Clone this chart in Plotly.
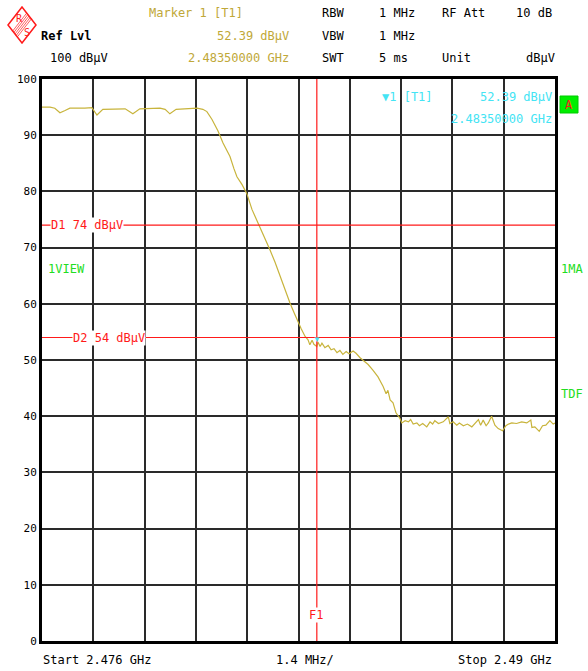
import plotly.graph_objects as go

# ---- sweep settings -------------------------------------------------------
START_GHZ = 2.476
STOP_GHZ = 2.490
SPAN_PER_DIV_GHZ = 0.0014
REF_LEVEL = 100
DISPLAY_LINES = [("D1", 74), ("D2", 54)]
F1_GHZ = 2.4835
MARKER_GHZ = 2.4835
MARKER_LEVEL = 52.39
y_ticks = [0, 10, 20, 30, 40, 50, 60, 70, 80, 90, 100]

# ---- measured trace (GHz, dBµV) ------------------------------------------
freq_ghz = [
    2.47600, 2.47622, 2.47635, 2.47649, 2.47663, 2.47676, 2.47717, 2.47736,
    2.47750, 2.47766, 2.47827, 2.47848, 2.47867, 2.47922, 2.47936, 2.47949,
    2.47966, 2.48004, 2.48023, 2.48039, 2.48050, 2.48064, 2.48080, 2.48094,
    2.48113, 2.48124, 2.48132, 2.48146, 2.48159, 2.48173, 2.48184, 2.48195,
    2.48209, 2.48222, 2.48236, 2.48250, 2.48263, 2.48277, 2.48288, 2.48296,
    2.48307, 2.48318, 2.48326, 2.48331, 2.48337, 2.48342, 2.48350, 2.48353,
    2.48359, 2.48364, 2.48372, 2.48381, 2.48389, 2.48397, 2.48405, 2.48413,
    2.48421, 2.48430, 2.48438, 2.48449, 2.48457, 2.48468, 2.48479, 2.48490,
    2.48503, 2.48517, 2.48531, 2.48539, 2.48544, 2.48550, 2.48558, 2.48566,
    2.48577, 2.48582, 2.48591, 2.48600, 2.48606, 2.48613, 2.48623, 2.48630,
    2.48639, 2.48650, 2.48659, 2.48666, 2.48672, 2.48682, 2.48695, 2.48709,
    2.48713, 2.48722, 2.48732, 2.48739, 2.48750, 2.48761, 2.48773, 2.48782,
    2.48791, 2.48797, 2.48804, 2.48812, 2.48818, 2.48827, 2.48836, 2.48845,
    2.48857, 2.48866, 2.48873, 2.48882, 2.48895, 2.48909, 2.48923, 2.48934,
    2.48937, 2.48945, 2.48957, 2.48966, 2.48975, 2.48986, 2.48995, 2.49000,
]
level_dbuv = [
    95.0, 95.0, 94.8, 94.0, 94.4, 94.8, 94.8, 94.9,
    93.6, 94.6, 94.7, 93.8, 94.7, 94.8, 94.6, 93.8,
    94.6, 94.8, 94.8, 94.6, 94.2, 92.8, 90.8, 88.6,
    86.2, 84.0, 82.6, 81.2, 79.6, 76.8, 75.2, 73.7,
    71.8, 69.6, 67.4, 64.8, 62.6, 60.1, 58.4, 57.1,
    55.6, 54.2, 53.6, 52.7, 53.5, 52.8, 52.39, 53.2,
    52.4, 53.0, 52.2, 52.6, 51.8, 52.0, 51.3, 51.7,
    51.0, 51.5, 51.1, 51.6, 51.2, 50.4, 49.8, 49.2,
    48.2, 47.0, 45.3, 44.0, 44.6, 42.9, 42.4, 40.6,
    39.6, 38.8, 39.2, 39.0, 39.4, 38.6, 38.8, 38.3,
    38.7, 38.1, 39.0, 38.6, 39.2, 38.7, 39.0, 39.9,
    38.7, 39.0, 38.4, 38.8, 38.3, 38.6, 38.1, 38.7,
    39.4, 38.4, 39.3, 38.3, 38.8, 40.0, 38.4, 37.8,
    37.4, 38.3, 38.6, 38.8, 38.7, 39.0, 38.8, 39.3,
    38.0, 38.1, 37.3, 38.3, 38.4, 39.2, 38.6, 38.8,
]

# ---- page geometry --------------------------------------------------------
W, H = 588, 671
ML, MR, MT, MB = 42, 33, 79, 30
PW, PH = W - ML - MR, H - MT - MB


def px(x):
    return (x - ML) / PW


def py(y):
    return (H - MB - y) / PH


FONT = "DejaVu Sans Mono"
TRACE = "#c8b43c"
HDR_Y = "#c0a838"
CYAN = "#44e4f4"
GREEN = "#22dd22"
RED = "#ff1a1a"

fig = go.Figure()

fig.add_trace(go.Scatter(
    x=freq_ghz, y=level_dbuv, mode="lines",
    line=dict(color=TRACE, width=1.2), hoverinfo="skip", showlegend=False,
))

shapes = []
annotations = []


def text(x, y, s, color="black", size=12, xanchor="left", bg=None, yanchor="middle"):
    a = dict(x=px(x), y=py(y), xref="paper", yref="paper", text=s, showarrow=False,
             xanchor=xanchor, yanchor=yanchor,
             font=dict(family=FONT, size=size, color=color), borderpad=0)
    if bg:
        a["bgcolor"] = bg
    annotations.append(a)


# display lines
for name, lvl in DISPLAY_LINES:
    shapes.append(dict(type="line", xref="paper", yref="y", x0=0, x1=1, y0=lvl, y1=lvl,
                       line=dict(color=RED, width=1.2), layer="above"))
text(50, 225, "D1 74 dBµV", RED, bg="white")
text(72, 337.5, "D2 54 dBµV", RED, bg="white")

# frequency line F1
shapes.append(dict(type="line", xref="x", yref="paper", x0=F1_GHZ, x1=F1_GHZ, y0=0, y1=1,
                   line=dict(color=RED, width=1.2), layer="above"))
text(316, 615, "F1", RED, xanchor="center", bg="white")

# marker symbol on the trace
annotations.append(dict(x=MARKER_GHZ, y=MARKER_LEVEL, xref="x", yref="y", text="▼",
                        showarrow=False, yanchor="bottom", xanchor="center", yshift=1,
                        font=dict(size=8, color=CYAN)))

# marker readout inside the grid
text(381, 97, "▼1 [T1]", CYAN)
text(553, 97, "52.39 dBµV", CYAN, xanchor="right")
text(553, 119, "2.48350000 GHz", CYAN, xanchor="right")

# side indicators
shapes.append(dict(type="rect", xref="paper", yref="paper", x0=px(560), x1=px(578),
                   y0=py(113), y1=py(96), fillcolor="#00ee00", line=dict(color="#00cc00", width=1)))
text(569, 104.5, "A", RED, xanchor="center")
text(47, 269, "1VIEW", GREEN)
text(560, 269, "1MA", GREEN)
text(560, 394, "TDF", GREEN)

# header block
text(148, 13, "Marker 1 [T1]", HDR_Y)
text(290, 36, "52.39 dBµV", HDR_Y, xanchor="right")
text(290, 58, "2.48350000 GHz", HDR_Y, xanchor="right")
text(40, 36, "<b>Ref Lvl</b>")
text(49, 58, "100 dBµV")
for row_y, cells in [(13, [(321, "RBW"), (378, "1 MHz"), (441, "RF Att"), (515, "10 dB")]),
                     (36, [(321, "VBW"), (378, "1 MHz")]),
                     (58, [(321, "SWT"), (378, "5 ms"), (441, "Unit")])]:
    for cx, s in cells:
        text(cx, row_y, s)
text(556, 58, "dBµV", xanchor="right")

# footer
text(42, 660, "Start 2.476 GHz")
text(305, 660, "1.4 MHz/", xanchor="center")
text(553, 660, "Stop 2.49 GHz", xanchor="right")

# R&S logo: red rhombus with hatched diagonal band between the letters
cx, cy, hw, hh = 22, 25, 14, 18


def lp(x, y):
    return f"{px(x)} {py(y)}"


shapes.append(dict(type="path", xref="paper", yref="paper",
                   path=f"M {lp(cx-hw, cy)} L {lp(cx, cy-hh)} L {lp(cx+hw, cy)} L {lp(cx, cy+hh)} Z",
                   line=dict(color=RED, width=1.5)))
for k in range(-2, 3):
    d = 1.3 * k
    shapes.append(dict(type="line", xref="paper", yref="paper",
                       x0=px(cx - 7 + d), y0=py(cy + 9 + d),
                       x1=px(cx + 7 + d), y1=py(cy - 9 + d),
                       line=dict(color=RED, width=0.7)))
text(19, 18, "R", RED, size=10, xanchor="center")
text(27, 33, "S", RED, size=10, xanchor="center")

fig.update_layout(
    width=W, height=H,
    margin=dict(l=ML, r=MR, t=MT, b=MB, pad=0),
    paper_bgcolor="white", plot_bgcolor="white",
    shapes=shapes, annotations=annotations,
    xaxis=dict(range=[START_GHZ, STOP_GHZ], tick0=START_GHZ, dtick=SPAN_PER_DIV_GHZ,
               showgrid=True, gridcolor="#2a2a2a", gridwidth=1.5,
               showticklabels=False, ticks="", zeroline=False,
               showline=True, linecolor="black", linewidth=3, mirror=True),
    yaxis=dict(range=[0, REF_LEVEL], tickvals=y_ticks,
               showgrid=True, gridcolor="#2a2a2a", gridwidth=1.5,
               ticks="", zeroline=False, tickfont=dict(family=FONT, size=11, color="black"),
               showline=True, linecolor="black", linewidth=3, mirror=True),
)

fig.write_html("out.html")
